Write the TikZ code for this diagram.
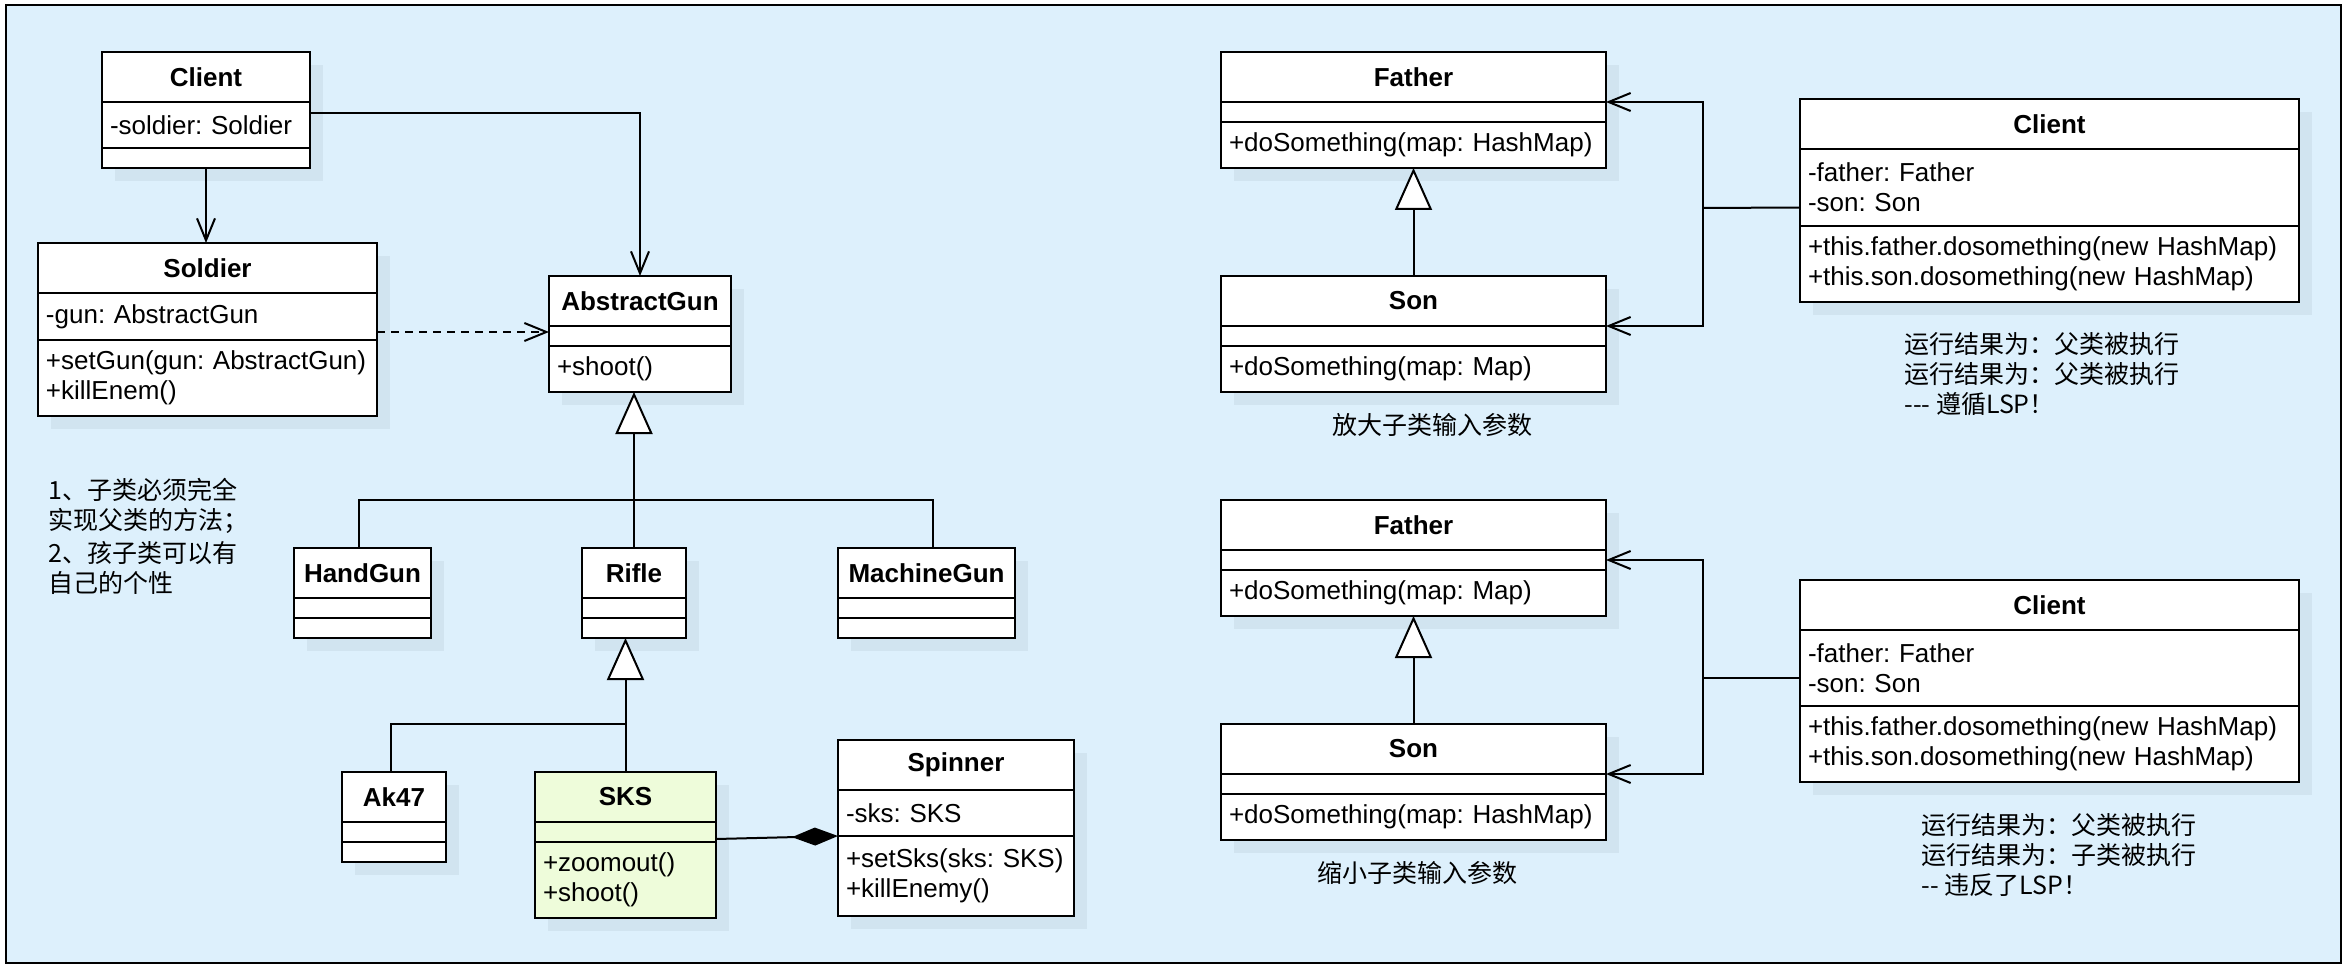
\documentclass[tikz,border=0pt]{standalone}
\usepackage{fontspec}
\setmainfont{Liberation Sans}
\newfontfamily\cjk{Noto Sans CJK SC}
\usepackage{tikz}
\usetikzlibrary{arrows.meta,shadows}
\definecolor{mybgcolor}{HTML}{DDF0FC}
\definecolor{myshadowcolor}{HTML}{D1E4F0}
\definecolor{mysksColor}{HTML}{EEFCDA}
\frenchspacing
\hyphenpenalty=10000
\tikzset{
  umlbox/.style={draw, fill=white, rectangle, line width=1pt, anchor=north west, outer sep=0pt, inner ysep=0pt,
    drop shadow={shadow xshift=6.5pt, shadow yshift=-6.5pt, fill=myshadowcolor, opacity=1},
    font=\fontsize{13pt}{15pt}\selectfont},
  umlhead/.style={umlbox, inner xsep=0pt, minimum height=25pt, font=\fontsize{13pt}{15pt}\selectfont\bfseries},
  umlrow/.style={umlbox, inner xsep=4pt, align=left},
  link/.style={line width=1pt},
  assoc/.style={link, -{Straight Barb[length=11pt, width=9pt]}},
  depend/.style={assoc, dash pattern=on 4pt off 3pt},
  inherit/.style={link, -{Triangle[length=21pt, width=18.5pt, fill=white]}},
  compose/.style={link, -{Diamond[length=23pt, width=9pt]}},
  note/.style={font=\cjk\fontsize{12.5pt}{15pt}\selectfont, align=left, inner sep=0pt}
}
\begin{document}
\begin{tikzpicture}[x=0.5pt, y=-0.5pt]%
\useasboundingbox (0,0) rectangle (2346,968);%
\fill[white] (0,0) rectangle (2346,968);%
\draw[fill=mybgcolor, line width=1.25pt] (6,5) rectangle (2341,963);%
\node[umlhead, minimum width=104pt] (clienthead) at (102,52) {Client};%
\node[umlrow, text width=96pt, minimum height=23pt] (clientattr) at (102,102) {-soldier: Soldier};%
\node[umlrow, minimum width=104pt, minimum height=10pt] (clientops) at (102,148) {};%
\node[umlhead, minimum width=169.5pt] (soldierhead) at (38,243) {Soldier};%
\node[umlrow, text width=161.5pt, minimum height=23.5pt] (soldierattr) at (38,293) {-gun: AbstractGun};%
\node[umlrow, text width=161.5pt, minimum height=38pt] (soldierops) at (38,340) {+setGun(gun: AbstractGun)\\+killEnem()};%
\node[umlhead, minimum width=91pt] (gunhead) at (549,276) {AbstractGun};%
\node[umlrow, minimum width=91pt, minimum height=10pt] (gunattr) at (549,326) {};%
\node[umlrow, text width=83pt, minimum height=23pt] (gunops) at (549,346) {+shoot()};%
\node[umlhead, minimum width=68.5pt] (handgunhead) at (294,548) {HandGun};%
\node[umlrow, minimum width=68.5pt, minimum height=10pt] (handgunattr) at (294,598) {};%
\node[umlrow, minimum width=68.5pt, minimum height=10pt] (handgunops) at (294,618) {};%
\node[umlhead, minimum width=52pt] (riflehead) at (582,548) {Rifle};%
\node[umlrow, minimum width=52pt, minimum height=10pt] (rifleattr) at (582,598) {};%
\node[umlrow, minimum width=52pt, minimum height=10pt] (rifleops) at (582,618) {};%
\node[umlhead, minimum width=88.5pt] (machinegunhead) at (838,548) {MachineGun};%
\node[umlrow, minimum width=88.5pt, minimum height=10pt] (machinegunattr) at (838,598) {};%
\node[umlrow, minimum width=88.5pt, minimum height=10pt] (machinegunops) at (838,618) {};%
\node[umlhead, minimum width=52pt] (akhead) at (342,772) {Ak47};%
\node[umlrow, minimum width=52pt, minimum height=10pt] (akattr) at (342,822) {};%
\node[umlrow, minimum width=52pt, minimum height=10pt] (akops) at (342,842) {};%
\node[umlhead, fill=mysksColor, minimum width=90.5pt] (skshead) at (535,772) {SKS};%
\node[umlrow, fill=mysksColor, minimum width=90.5pt, minimum height=10pt] (sksattr) at (535,822) {};%
\node[umlrow, fill=mysksColor, text width=82.5pt, minimum height=38pt] (sksops) at (535,842) {+zoomout()\\+shoot()};%
\node[umlhead, minimum width=118pt] (spinnerhead) at (838,740) {Spinner};%
\node[umlrow, text width=110pt, minimum height=23pt] (spinnerattr) at (838,790) {-sks: SKS};%
\node[umlrow, text width=110pt, minimum height=40pt] (spinnerops) at (838,836) {+setSks(sks: SKS)\\+killEnemy()};%
\node[umlhead, minimum width=192.5pt] (fatherAhead) at (1221,52) {Father};%
\node[umlrow, minimum width=192.5pt, minimum height=10pt] (fatherAattr) at (1221,102) {};%
\node[umlrow, text width=184.5pt, minimum height=23pt] (fatherAops) at (1221,122) {+doSomething(map: HashMap)};%
\node[umlhead, minimum width=192.5pt] (sonAhead) at (1221,276) {Son};%
\node[umlrow, minimum width=192.5pt, minimum height=10pt] (sonAattr) at (1221,326) {};%
\node[umlrow, text width=184.5pt, minimum height=23pt] (sonAops) at (1221,346) {+doSomething(map: Map)};%
\node[umlhead, minimum width=249.5pt] (callerAhead) at (1800,99) {Client};%
\node[umlrow, text width=241.5pt, minimum height=38.5pt] (callerAattr) at (1800,149) {-father: Father\\-son: Son};%
\node[umlrow, text width=241.5pt, minimum height=38pt] (callerAops) at (1800,226) {+this.father.dosomething(new HashMap)\\+this.son.dosomething(new HashMap)};%
\node[umlhead, minimum width=192.5pt] (fatherBhead) at (1221,500) {Father};%
\node[umlrow, minimum width=192.5pt, minimum height=10pt] (fatherBattr) at (1221,550) {};%
\node[umlrow, text width=184.5pt, minimum height=23pt] (fatherBops) at (1221,570) {+doSomething(map: Map)};%
\node[umlhead, minimum width=192.5pt] (sonBhead) at (1221,724) {Son};%
\node[umlrow, minimum width=192.5pt, minimum height=10pt] (sonBattr) at (1221,774) {};%
\node[umlrow, text width=184.5pt, minimum height=23pt] (sonBops) at (1221,794) {+doSomething(map: HashMap)};%
\node[umlhead, minimum width=249.5pt] (callerBhead) at (1800,580) {Client};%
\node[umlrow, text width=241.5pt, minimum height=38pt] (callerBattr) at (1800,630) {-father: Father\\-son: Son};%
\node[umlrow, text width=241.5pt, minimum height=38pt] (callerBops) at (1800,706) {+this.father.dosomething(new HashMap)\\+this.son.dosomething(new HashMap)};%
\node[note, anchor=west] (rulenote) at (48,536) {1、子类必须完全\\实现父类的方法；\\[1.5pt]2、孩子类可以有\\自己的个性};%
\node[note] (widencap) at (1432,425) {放大子类输入参数};%
\node[note] (narrowcap) at (1417,873) {缩小子类输入参数};%
\node[note, anchor=west] (resultA) at (1904,374) {运行结果为：父类被执行\\运行结果为：父类被执行\\-{}-{}- 遵循LSP！};%
\node[note, anchor=west] (resultB) at (1921,855) {运行结果为：父类被执行\\运行结果为：子类被执行\\-{}- 违反了LSP！};%
\coordinate (gunbar) at (634,500);%
\coordinate (riflebar) at (625.5,724);%
\coordinate (joinA) at (1703,208);%
\coordinate (joinB) at (1703,678);%
\draw[assoc] (clientops.south) -- (clientops.south |- soldierhead.north);%
\draw[assoc] ([yshift=6pt]clientattr.east) -| (gunhead.north);%
\draw[depend] ([yshift=4pt]soldierattr.south east) -- ([yshift=4pt]soldierattr.south east -| gunhead.west);%
\draw[link] ([xshift=-2pt]handgunhead.north) |- (gunbar) -| ([xshift=3pt]machinegunhead.north);%
\draw[inherit] (riflehead.north) -- (riflehead.north |- gunops.south);%
\draw[link] ([xshift=-1.5pt]akhead.north) |- (riflebar);%
\draw[inherit] (skshead.north) -- (skshead.north |- rifleops.south);%
\draw[compose] ([yshift=1.5pt]sksattr.south east) -- (spinnerattr.south west);%
\draw[inherit] (sonAhead.north) -- (fatherAops.south);%
\draw[link] ([yshift=-10pt]callerAattr.west) -- (joinA);%
\draw[assoc] (joinA) |- (fatherAattr.north east);%
\draw[assoc] (joinA) |- (sonAattr.north east);%
\draw[inherit] (sonBhead.north) -- (fatherBops.south);%
\draw[link] ([yshift=-5pt]callerBattr.west) -- (joinB);%
\draw[assoc] (joinB) |- (fatherBattr.east);%
\draw[assoc] (joinB) |- (sonBattr.north east);%
\end{tikzpicture}
\end{document}
